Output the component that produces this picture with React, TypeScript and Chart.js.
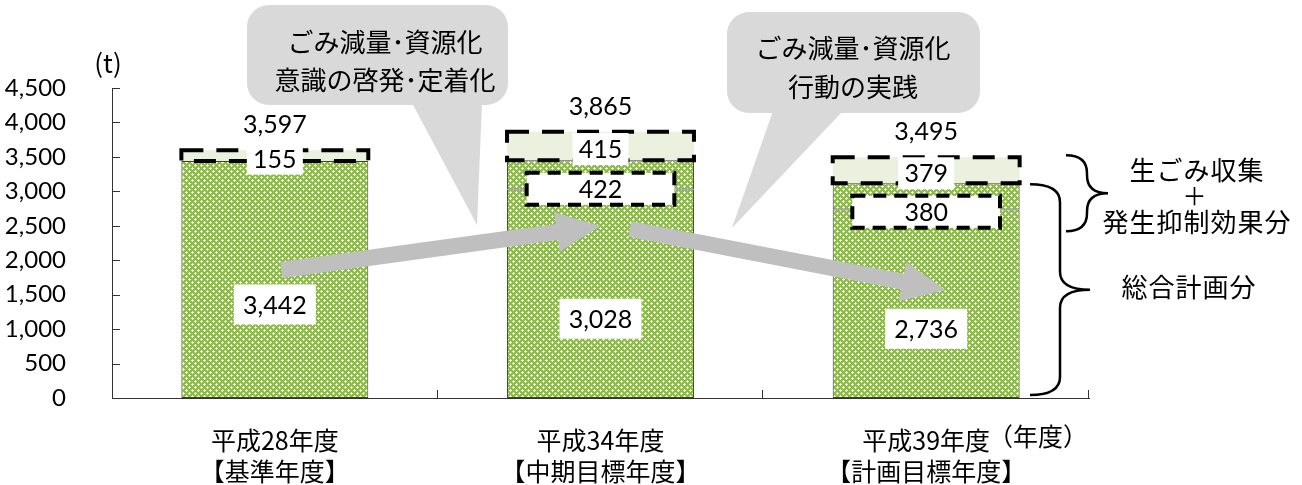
import React, { useEffect, useRef } from "react";
import { Chart, registerables } from "chart.js";

Chart.register(...registerables);

// ---------- data ----------
const categories: string[][] = [
  ["平成28年度", "【基準年度】"],
  ["平成34年度", "【中期目標年度】"],
  ["平成39年度", "【計画目標年度】"],
];
const planValues = [3442, 3028, 2736]; // 総合計画分
const effectValues = [0, 422, 380]; // 発生抑制効果分
const collectValues = [155, 415, 379]; // 生ごみ収集
const totalValues = [3597, 3865, 3495];
const yTickValues = [0, 500, 1000, 1500, 2000, 2500, 3000, 3500, 4000, 4500];
const yUnit = "(t)";
const xUnit = "（年度）";
const calloutLines: string[][] = [
  ["ごみ減量･資源化", "意識の啓発･定着化"],
  ["ごみ減量･資源化", "行動の実践"],
];
const braceTopLabels = ["生ごみ収集", "＋", "発生抑制効果分"];
const braceBottomLabel = "総合計画分";
// arrow annotations: [category position, value]
const arrowFrom = [
  [0.02, 1858],
  [1.09, 2453],
];
const arrowTo = [
  [1.0, 2497],
  [2.06, 1568],
];

const NUM_FONT = "Lato, 'Noto Sans CJK JP', sans-serif";
const JP_FONT = "'Noto Sans CJK JP', sans-serif";
const fmt = (v: number) => v.toLocaleString("en-US");

function makePattern(ctx: CanvasRenderingContext2D): CanvasPattern | string {
  const c = document.createElement("canvas");
  c.width = 6;
  c.height = 6;
  const p = c.getContext("2d");
  if (!p) return "#A9C87A";
  p.fillStyle = "#8FB853";
  p.fillRect(0, 0, 6, 6);
  p.fillStyle = "#EEF4E2";
  const pts = [
    [3, 2], [2, 3], [3, 3], [4, 3], [3, 4],
    [0, 5], [5, 0], [0, 0], [1, 0], [0, 1],
  ];
  pts.forEach(([x, y]) => p.fillRect(x, y, 1, 1));
  return ctx.createPattern(c, "repeat") || "#A9C87A";
}

function dashedRect(ctx: CanvasRenderingContext2D, x: number, y: number, w: number, h: number, dash: number[], lw: number) {
  ctx.save();
  ctx.setLineDash(dash);
  ctx.lineWidth = lw;
  ctx.strokeStyle = "#000";
  ctx.strokeRect(x, y, w, h);
  ctx.restore();
}

function labelBox(ctx: CanvasRenderingContext2D, cx: number, cy: number, w: number, h: number, text: string) {
  ctx.save();
  ctx.fillStyle = "#fff";
  ctx.fillRect(cx - w / 2, cy - h / 2, w, h);
  ctx.fillStyle = "#000";
  ctx.font = `25px ${NUM_FONT}`;
  ctx.textAlign = "center";
  ctx.textBaseline = "middle";
  ctx.fillText(text, cx, cy + 1);
  ctx.restore();
}

function drawArrow(ctx: CanvasRenderingContext2D, x1: number, y1: number, x2: number, y2: number) {
  const shaft = 16, headLen = 44, headW = 40;
  const ang = Math.atan2(y2 - y1, x2 - x1);
  const len = Math.hypot(x2 - x1, y2 - y1);
  ctx.save();
  ctx.translate(x1, y1);
  ctx.rotate(ang);
  ctx.beginPath();
  ctx.moveTo(0, -shaft / 2);
  ctx.lineTo(len - headLen, -shaft / 2);
  ctx.lineTo(len - headLen, -headW / 2);
  ctx.lineTo(len, 0);
  ctx.lineTo(len - headLen, headW / 2);
  ctx.lineTo(len - headLen, shaft / 2);
  ctx.lineTo(0, shaft / 2);
  ctx.closePath();
  ctx.fillStyle = "#BFBFBF";
  ctx.fill();
  ctx.restore();
}

function drawCallout(
  ctx: CanvasRenderingContext2D,
  box: { x: number; y: number; w: number; h: number },
  base: [number, number],
  tip: [number, number],
  lines: string[],
  textX: number,
  lineYs: number[]
) {
  ctx.save();
  ctx.fillStyle = "#D9D9D9";
  ctx.beginPath();
  ctx.roundRect(box.x, box.y, box.w, box.h, 22);
  ctx.fill();
  ctx.beginPath();
  ctx.moveTo(base[0], box.y + box.h - 2);
  ctx.lineTo(base[1], box.y + box.h - 2);
  ctx.lineTo(tip[0], tip[1]);
  ctx.closePath();
  ctx.fill();
  ctx.fillStyle = "#000";
  ctx.font = `26px ${JP_FONT}`;
  ctx.textAlign = "center";
  ctx.textBaseline = "middle";
  lines.forEach((t, i) => ctx.fillText(t, textX, lineYs[i]));
  ctx.restore();
}

function drawBrace(ctx: CanvasRenderingContext2D, x0: number, x1: number, yTop: number, yBot: number) {
  const xs = (x0 + x1) / 2;
  const yMid = (yTop + yBot) / 2;
  const r = Math.min(18, (yBot - yTop) / 4);
  ctx.save();
  ctx.strokeStyle = "#000";
  ctx.lineWidth = 2.5;
  ctx.beginPath();
  ctx.moveTo(x0, yTop);
  ctx.quadraticCurveTo(xs, yTop, xs, yTop + r);
  ctx.lineTo(xs, yMid - r);
  ctx.quadraticCurveTo(xs, yMid, x1, yMid);
  ctx.quadraticCurveTo(xs, yMid, xs, yMid + r);
  ctx.lineTo(xs, yBot - r);
  ctx.quadraticCurveTo(xs, yBot, x0, yBot);
  ctx.stroke();
  ctx.restore();
}

const overlayPlugin = {
  id: "overlay",
  afterDatasetsDraw(chart: any) {
    const ctx: CanvasRenderingContext2D = chart.ctx;
    const xs = chart.scales.x;
    const ys = chart.scales.y;
    const catW = (chart.chartArea.right - chart.chartArea.left) / categories.length;
    const posX = (p: number) => xs.getPixelForValue(Math.floor(p)) + (p - Math.floor(p)) * catW;

    // arrows
    arrowFrom.forEach((f, i) => {
      const t = arrowTo[i];
      drawArrow(ctx, posX(f[0]), ys.getPixelForValue(f[1]), posX(t[0]), ys.getPixelForValue(t[1]));
    });

    const m0 = chart.getDatasetMeta(0).data;
    const m1 = chart.getDatasetMeta(1).data;
    const m2 = chart.getDatasetMeta(2).data;
    for (let i = 0; i < categories.length; i++) {
      const top = m2[i];
      const w = top.width;
      dashedRect(ctx, top.x - w / 2, top.y, w, top.base - top.y, [22, 13], 4);
      labelBox(ctx, top.x, (top.y + top.base) / 2 + 3, 56, 32, fmt(collectValues[i]));
      if (effectValues[i] > 0) {
        const mid = m1[i];
        const bw = w * 0.79;
        const bt = mid.y + 12.5;
        ctx.save();
        ctx.fillStyle = "#fff";
        ctx.fillRect(mid.x - bw / 2, bt, bw, 32);
        ctx.restore();
        dashedRect(ctx, mid.x - bw / 2, bt, bw, 32, [13, 8], 4);
        labelBox(ctx, mid.x, bt + 16, 0, 0, fmt(effectValues[i]));
      }
      const b = m0[i];
      labelBox(ctx, b.x, (b.y + b.base) / 2 + 25, 82, 40, fmt(planValues[i]));
      ctx.save();
      ctx.fillStyle = "#000";
      ctx.font = `25px ${NUM_FONT}`;
      ctx.textAlign = "center";
      ctx.textBaseline = "middle";
      ctx.fillText(fmt(totalValues[i]), top.x, top.y - 25);
      ctx.restore();
    }
  },
  afterDraw(chart: any) {
    const ctx: CanvasRenderingContext2D = chart.ctx;
    const { left, right, top, bottom } = chart.chartArea;
    const ys = chart.scales.y;
    const xs = chart.scales.x;
    const catW = (right - left) / categories.length;

    // inside ticks
    ctx.save();
    ctx.strokeStyle = "#333";
    ctx.lineWidth = 1;
    ctx.beginPath();
    yTickValues.forEach((v) => {
      const py = Math.round(ys.getPixelForValue(v)) + 0.5;
      ctx.moveTo(left, py);
      ctx.lineTo(left + 8, py);
    });
    for (let k = 1; k <= categories.length; k++) {
      const px = Math.round(left + k * catW) - 0.5;
      ctx.moveTo(px, bottom);
      ctx.lineTo(px, bottom - 8);
    }
    ctx.stroke();
    ctx.restore();

    // units
    ctx.save();
    ctx.fillStyle = "#000";
    ctx.textBaseline = "middle";
    ctx.textAlign = "center";
    ctx.font = `26px ${JP_FONT}`;
    ctx.fillText(yUnit, left - 4, top - 25);
    ctx.font = `25px ${JP_FONT}`;
    const lastX = xs.getPixelForValue(categories.length - 1);
    const w3 = ctx.measureText(categories[categories.length - 1][0]).width;
    ctx.textAlign = "left";
    ctx.fillText(xUnit, lastX + w3 / 2 - 2, bottom + 38);
    ctx.restore();

    // callouts
    drawCallout(ctx, { x: 247, y: 5, w: 261, h: 100 }, [412, 482], [477, 225], calloutLines[0], 385, [42, 80]);
    drawCallout(ctx, { x: 727, y: 12, w: 253, h: 101 }, [773, 843], [732, 228], calloutLines[1], 853, [48, 87]);

    // braces
    const lastTotal = totalValues[totalValues.length - 1];
    const lastBase = planValues[planValues.length - 1] + effectValues[effectValues.length - 1];
    drawBrace(ctx, right - 23, right + 19, ys.getPixelForValue(lastTotal) - 2, ys.getPixelForValue(2420));
    drawBrace(ctx, right - 59, right + 1, ys.getPixelForValue(lastBase) + 1, ys.getPixelForValue(0) - 3);

    ctx.save();
    ctx.fillStyle = "#000";
    ctx.textAlign = "center";
    ctx.textBaseline = "middle";
    ctx.font = `26px ${JP_FONT}`;
    (ctx as any).letterSpacing = "1px";
    ctx.fillText(braceTopLabels[0], right + 108, 170);
    ctx.font = `24px ${JP_FONT}`;
    ctx.fillText(braceTopLabels[1], right + 106, 196);
    ctx.font = `26px ${JP_FONT}`;
    ctx.fillText(braceTopLabels[2], right + 108, 222);
    ctx.fillText(braceBottomLabel, right + 100, 287);
    ctx.restore();
  },
};

export default function App() {
  const ref = useRef<HTMLCanvasElement>(null);
  useEffect(() => {
    document.body.style.margin = "0";
    const canvas = ref.current;
    if (!canvas) return;
    const ctx = canvas.getContext("2d");
    if (!ctx) return;
    const pattern = makePattern(ctx);
    const chart = new Chart(canvas, {
      type: "bar",
      data: {
        labels: categories,
        datasets: [
          {
            label: "総合計画分",
            data: planValues,
            backgroundColor: pattern as any,
            borderColor: "#3F3F3F",
            borderWidth: 1,
            borderSkipped: false,
          },
          {
            label: "発生抑制効果分",
            data: effectValues,
            backgroundColor: pattern as any,
            borderColor: "#3F3F3F",
            borderWidth: 1,
            borderSkipped: false,
          },
          {
            label: "生ごみ収集",
            data: collectValues,
            backgroundColor: "#EBF1DE",
            borderWidth: 0,
          },
        ],
      },
      options: {
        responsive: false,
        animation: false,
        events: [],
        layout: { padding: { top: 88, right: 213, left: 0, bottom: 0 } },
        datasets: { bar: { categoryPercentage: 1, barPercentage: 0.574 } } as any,
        plugins: { legend: { display: false }, tooltip: { enabled: false }, title: { display: false } },
        scales: {
          x: {
            stacked: true,
            grid: { display: false },
            border: { display: true, color: "#333", width: 1 },
            ticks: {
              color: "#000",
              font: { family: JP_FONT, size: 25, lineHeight: 1.25 },
              padding: 19,
              maxRotation: 0,
              autoSkip: false,
            },
            afterFit: (s: any) => {
              s.height = 87;
            },
          },
          y: {
            stacked: true,
            min: 0,
            max: 4500,
            grid: { display: false },
            border: { display: true, color: "#333", width: 1 },
            ticks: {
              color: "#000",
              font: { family: NUM_FONT, size: 24 },
              padding: 38,
              autoSkip: false,
              callback: (v: any) => fmt(Number(v)),
            },
            afterBuildTicks: (s: any) => {
              s.ticks = yTickValues.map((v) => ({ value: v }));
            },
            afterFit: (s: any) => {
              s.width = 112;
            },
          },
        },
      },
      plugins: [overlayPlugin],
    });
    return () => chart.destroy();
  }, []);
  return <canvas ref={ref} width={1302} height={485} style={{ display: "block" }} />;
}
